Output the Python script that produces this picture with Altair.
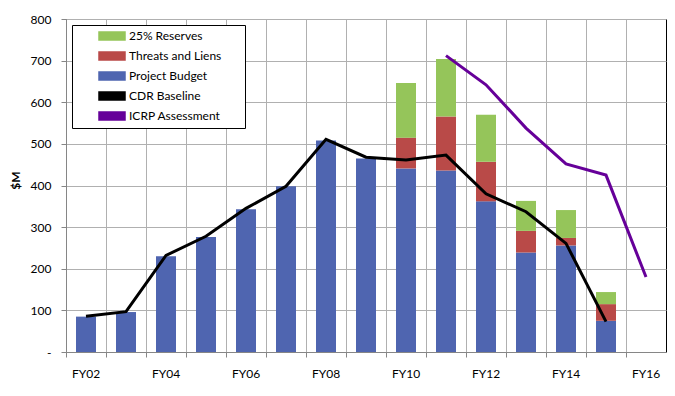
import altair as alt
import pandas as pd

# ---- data ----
years = ["FY02", "FY03", "FY04", "FY05", "FY06", "FY07", "FY08", "FY09",
         "FY10", "FY11", "FY12", "FY13", "FY14", "FY15", "FY16"]

budget_years = ["FY02", "FY03", "FY04", "FY05", "FY06", "FY07", "FY08",
                "FY09", "FY10", "FY11", "FY12", "FY13", "FY14", "FY15"]
project_budget = [85, 96, 230, 276, 343, 398, 508, 465, 441, 436, 362, 239, 256, 75]

stack_years = ["FY10", "FY11", "FY12", "FY13", "FY14", "FY15"]
threats_liens = [74, 130, 95, 52, 18, 40]
reserves_25 = [131, 138, 113, 72, 67, 29]

cdr_years = budget_years
cdr_baseline = [86, 97, 232, 278, 345, 398, 511, 468, 461, 473, 380, 337, 261, 73]

icrp_years = ["FY11", "FY12", "FY13", "FY14", "FY15", "FY16"]
icrp_assessment = [712, 642, 538, 452, 425, 180]

y_ticks = [0, 100, 200, 300, 400, 500, 600, 700, 800]

series_names = ["25% Reserves", "Threats and Liens", "Project Budget",
                "CDR Baseline", "ICRP Assessment"]
series_colors = ["#95C55A", "#B94A48", "#4F65B0", "#000000", "#660099"]
swatch_path = "M-3.25,-1H3.25V1H-3.25Z"

# ---- tables ----
bars_df = pd.concat([
    pd.DataFrame({"year": budget_years, "series": "Project Budget", "value": project_budget}),
    pd.DataFrame({"year": stack_years, "series": "Threats and Liens", "value": threats_liens}),
    pd.DataFrame({"year": stack_years, "series": "25% Reserves", "value": reserves_25}),
], ignore_index=True)
stack_rank = {"Project Budget": 0, "Threats and Liens": 1, "25% Reserves": 2}
bars_df["rank"] = bars_df["series"].map(stack_rank)

lines_df = pd.concat([
    pd.DataFrame({"year": cdr_years, "series": "CDR Baseline", "value": cdr_baseline}),
    pd.DataFrame({"year": icrp_years, "series": "ICRP Assessment", "value": icrp_assessment}),
], ignore_index=True)

# ---- shared encodings ----
x_enc = alt.X(
    "year:N",
    scale=alt.Scale(domain=years, paddingInner=0, paddingOuter=0),
    axis=alt.Axis(
        title=None, bandPosition=0, labelAngle=0,
        labelExpr="parseInt(substring(datum.label, 2)) % 2 == 0 ? datum.label : ''",
        grid=True, tickSize=5, labelPadding=11,
    ),
)
y_axis = alt.Axis(
    title="$M", values=y_ticks, grid=True, tickSize=5, labelPadding=10,
    labelExpr="datum.value == 0 ? '-\u00a0\u00a0' : datum.label",
    titleFontWeight="bold", titleX=-51, titleY=161,
    titleAlign="center", titleBaseline="middle",
)
y_scale = alt.Scale(domain=[0, 800], nice=False)

color_scale = alt.Scale(domain=series_names, range=series_colors)

legend = alt.Legend(
    title=None, orient="top-left", offset=6,
    strokeColor="black", fillColor="white", padding=5,
    symbolType=swatch_path, symbolSize=64, symbolOffset=29,
    labelOffset=11, labelFont="Lato", labelFontSize=12, labelColor="black",
    rowPadding=6,
    labelExpr="datum.label + '" + "\u2800" * 2 + "'",
)

bars = alt.Chart(bars_df).mark_bar(width=alt.RelativeBandSize(0.5)).encode(
    x=x_enc,
    y=alt.Y("value:Q", stack="zero", scale=y_scale, axis=y_axis),
    color=alt.Color("series:N", scale=color_scale, legend=legend),
    order=alt.Order("rank:Q"),
)

lines = alt.Chart(lines_df).mark_line(strokeWidth=3).encode(
    x=x_enc,
    y=alt.Y("value:Q", stack=None, scale=y_scale, axis=y_axis),
    color=alt.Color("series:N", scale=color_scale, legend=legend),
)

chart = alt.layer(bars, lines).properties(
    width=600, height=333,
    autosize=alt.AutoSizeParams(type="none"),
    padding={"left": 58, "top": 11, "right": 1, "bottom": 28},
).configure_view(
    stroke="black", strokeWidth=1,
).configure_axis(
    domainColor="#868686", tickColor="#868686", gridColor="#B0B0B0",
    labelFont="Lato", labelFontSize=12, labelColor="black",
    titleFont="Lato", titleFontSize=12, titleColor="black",
)

chart.save("out.html", embed_options={"renderer": "svg", "actions": False})
